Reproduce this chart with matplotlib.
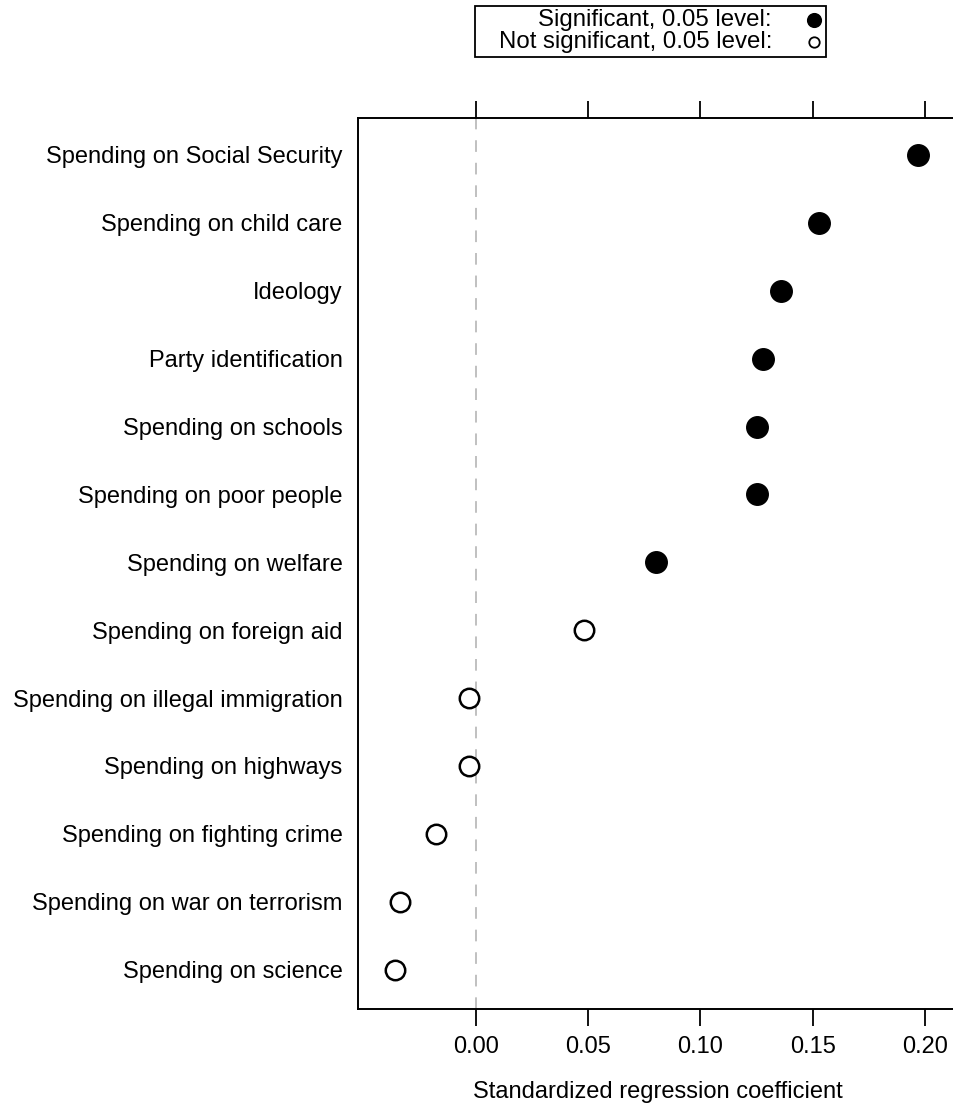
import matplotlib
matplotlib.use("Agg")
import numpy as np
import matplotlib.pyplot as plt
from matplotlib.lines import Line2D
from matplotlib.patches import Rectangle

plt.rcParams['font.family'] = ['Liberation Sans', 'DejaVu Sans']

# predictors, listed top to bottom
labels = [
    "Spending on Social Security",
    "Spending on child care",
    "Ideology",
    "Party identification",
    "Spending on schools",
    "Spending on poor people",
    "Spending on welfare",
    "Spending on foreign aid",
    "Spending on illegal immigration",
    "Spending on highways",
    "Spending on fighting crime",
    "Spending on war on terrorism",
    "Spending on science",
]
coefs = [0.197, 0.153, 0.136, 0.128, 0.125, 0.125, 0.080,
         0.048, -0.003, -0.003, -0.018, -0.034, -0.036]
significant = [True, True, True, True, True, True, True,
               False, False, False, False, False, False]
xticks = [0.00, 0.05, 0.10, 0.15, 0.20]

W, H = 954, 1109
fig = plt.figure(figsize=(W / 100, H / 100), dpi=100)

# plot region in pixels: left 358, right runs off the page, top 118, bottom 1009
left_px, right_px = 358, 970
ax = fig.add_axes([left_px / W, (H - 1009) / H, (right_px - left_px) / W, (1009 - 118) / H])

ypos = np.arange(len(labels), 0, -1)
coefs = np.array(coefs)
sig = np.array(significant)

ax.axvline(0, color='#c0c0c0', lw=1.4, dashes=(6.0, 5.6), zorder=1)
ax.plot(coefs[sig], ypos[sig], 'o', ms=15.5, mfc='black', mec='black', mew=1, zorder=3)
ax.plot(coefs[~sig], ypos[~sig], 'o', ms=14.0, mfc='white', mec='black', mew=1.8, zorder=3)

# 2245 px per unit, zero at x = 476 px
ax.set_xlim((left_px - 476) / 2245, (right_px - 476) / 2245)
ax.set_ylim(0.42, 13.545)
ax.set_xticks(xticks)
ax.set_xticklabels(["%.2f" % t for t in xticks])
ax.set_yticks(ypos)
ax.set_yticklabels(labels)

ax.tick_params(axis='x', top=True, labeltop=False, direction='out',
               length=12.5, width=1.3, labelsize=17, pad=7)
ax.tick_params(axis='y', length=0, pad=11, labelsize=17)
for s in ax.spines.values():
    s.set_linewidth(1.4)

fig.text(0.5 * (358 + 957) / W, (H - 1092) / H, "Standardized regression coefficient",
         ha='center', va='center', fontsize=17)

# key for the marker styles
x0, x1, y0, y1 = 475, 826, 6, 57
fig.add_artist(Rectangle((x0 / W, (H - y1) / H), (x1 - x0) / W, (y1 - y0) / H,
                         transform=fig.transFigure, fill=False, ec='black', lw=1.3))
rows = [("Significant, 0.05 level:", 'black', 20), ("Not significant, 0.05 level:", 'white', 42)]
for txt, fc, yy in rows:
    fig.text(772 / W, (H - yy) / H, txt, ha='right', va='center', fontsize=17.3)
    fig.add_artist(Line2D([814 / W], [(H - yy) / H], transform=fig.transFigure,
                          marker='o', ms=9.6 if fc == 'black' else 7.5,
                          mfc=fc, mec='black', mew=1.3, ls='none'))

fig.savefig("out.png", dpi=100)
